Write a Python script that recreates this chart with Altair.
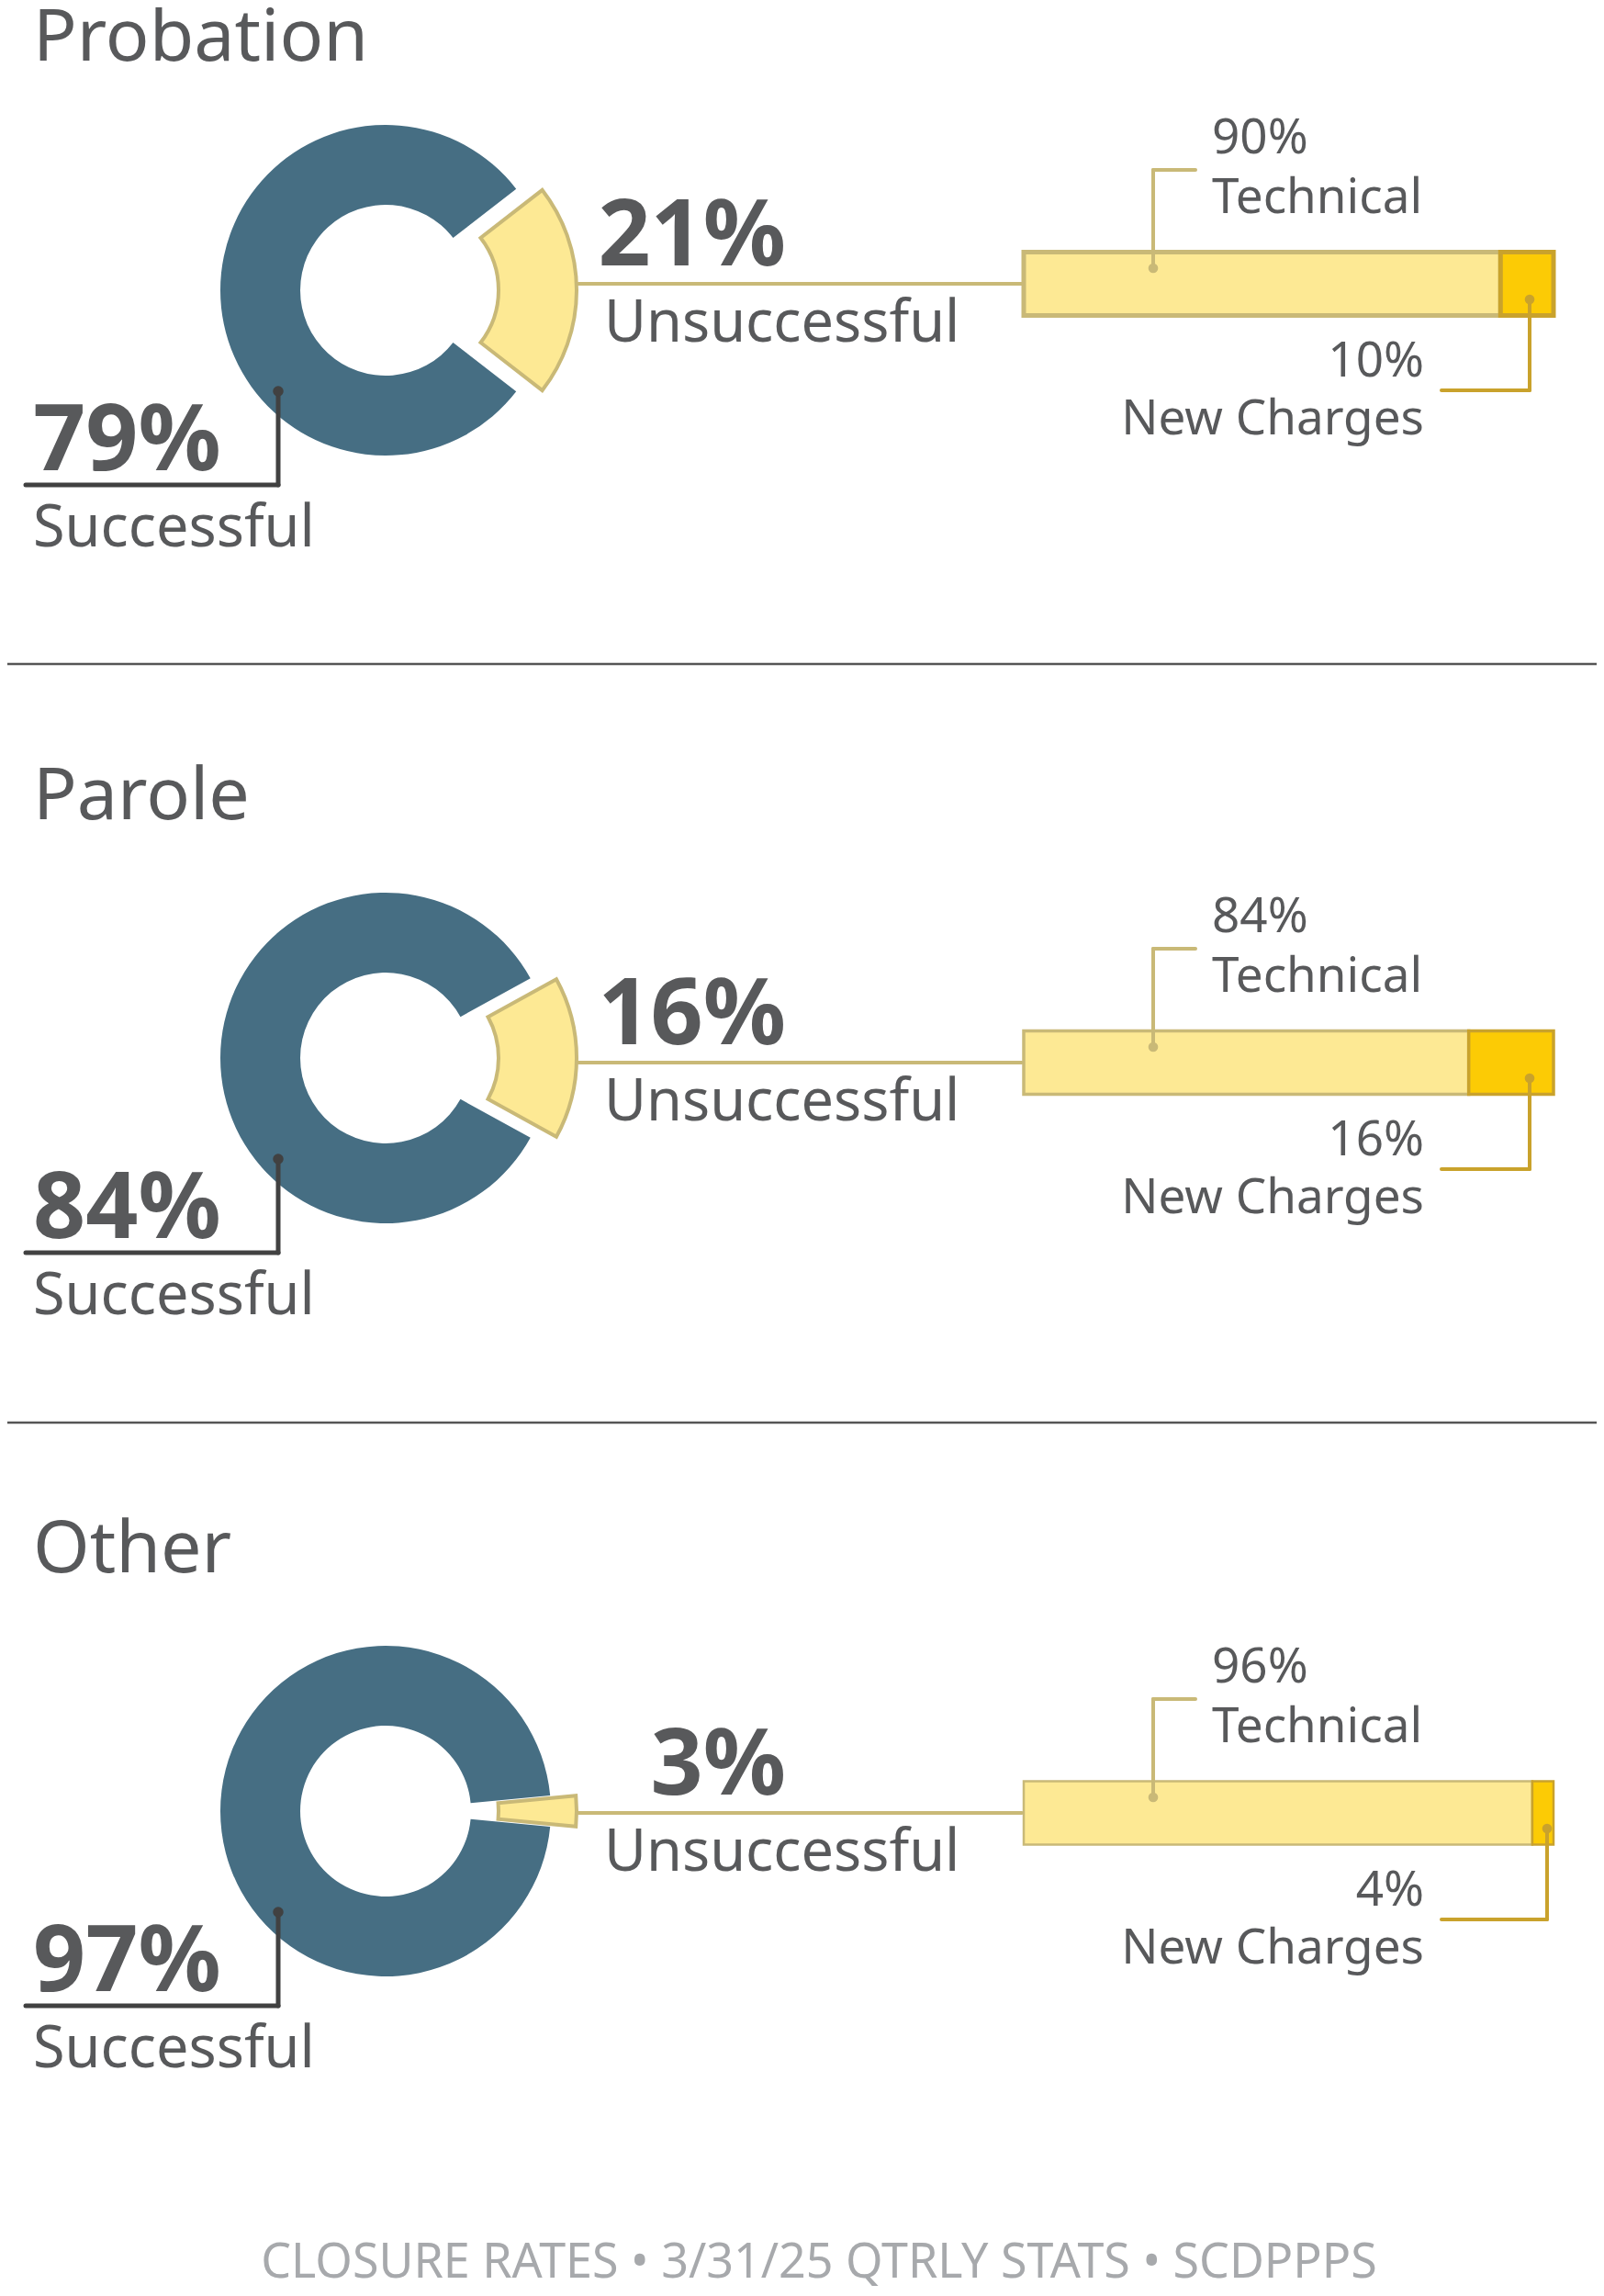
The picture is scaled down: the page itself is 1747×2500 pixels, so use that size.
import math
import altair as alt
import pandas as pd

# ---------------- data ----------------
programs = ["Probation", "Parole", "Other"]
successful = [79, 84, 97]
unsuccessful = [21, 16, 3]
technical = [90, 84, 96]
new_charges = [10, 16, 4]
footer_text = "CLOSURE RATES \u2022 3/31/25 QTRLY STATS \u2022 SCDPPPS"

# ---------------- layout (page px) ----------------
M = 8


def P(v):
    return v - M


donut_cy = [316, 1152, 1972]
bar_cy = [309, 1157, 1974]
sep_y = [723, 1549]
bar_stroke = [5, 3.5, 2.5]
nc_lead_x = [1666, 1666, 1685]

CX, R, R2, EXPLODE = 420, 180, 93, 30
BAR_X0, BAR_X1, BAR_H = 1115, 1692, 69

FONT = "Noto Sans"
BLUE = "#466e83"
LIGHT = "#fde994"
LIGHT_STROKE = "#c9b977"
GOLD = "#fccb05"
GOLD_STROKE = "#c9a22c"
TEXT = "#58595b"
DARK = "#414141"
SEP = "#555555"
FOOT = "#a7a9ac"

ONE = pd.DataFrame({"k": [0]})


def txt(s, x, y, size, bold=False, align="left", color=TEXT):
    return alt.Chart(pd.DataFrame({"t": [s]})).mark_text(
        align=align, baseline="alphabetic", font=FONT, fontSize=size,
        fontWeight="bold" if bold else "normal", color=color,
    ).encode(x=alt.value(P(x)), y=alt.value(P(y)), text="t:N")


def seg(x1, y1, x2, y2, color, w):
    return alt.Chart(ONE).mark_rule(color=color, strokeWidth=w, strokeCap="round").encode(
        x=alt.value(P(x1)), y=alt.value(P(y1)), x2=alt.value(P(x2)), y2=alt.value(P(y2))
    )


def dot(x, y, color, r):
    return alt.Chart(ONE).mark_circle(color=color, opacity=1, size=math.pi * r * r).encode(
        x=alt.value(P(x)), y=alt.value(P(y))
    )


xscale = alt.Scale(domain=[0, 100], range=[P(BAR_X0), P(BAR_X1)])
seg_domain = ["Technical", "New Charges"]

layers = []
for i, name in enumerate(programs):
    cy = donut_cy[i]
    by = bar_cy[i]
    u, s = unsuccessful[i], successful[i]
    t, n = technical[i], new_charges[i]

    # donut
    d = pd.DataFrame({"category": ["Unsuccessful", "Successful"], "value": [u, s]})
    d["end"] = d["value"].cumsum()
    d["start"] = d["end"] - d["value"]
    a0 = math.pi / 2 - u / 100 * math.pi
    th = alt.Theta("start:Q", stack=None,
                   scale=alt.Scale(domain=[0, 100], range=[a0, a0 + 2 * math.pi]))
    base = alt.Chart(d).encode(theta=th, theta2="end:Q", y=alt.value(P(cy)))
    blue = base.transform_filter("datum.category === 'Successful'").mark_arc(
        radius=R, radius2=R2, fill=BLUE
    ).encode(x=alt.value(P(CX)))
    wedge = base.transform_filter("datum.category === 'Unsuccessful'").mark_arc(
        radius=R - 2, radius2=R2, fill=LIGHT, stroke=LIGHT_STROKE, strokeWidth=4,
        strokeJoin="miter"
    ).encode(x=alt.value(P(CX + EXPLODE)))
    layers.append(alt.layer(blue, wedge))

    # stacked bar
    b = pd.DataFrame({"segment": seg_domain, "value": [t, n]})
    b["end"] = b["value"].cumsum()
    b["start"] = b["end"] - b["value"]
    bars = alt.Chart(b).mark_rect(strokeWidth=bar_stroke[i]).encode(
        x=alt.X("start:Q", scale=xscale, axis=None),
        x2="end:Q",
        y=alt.value(P(by - BAR_H / 2)),
        y2=alt.value(P(by + BAR_H / 2)),
        fill=alt.Fill("segment:N", scale=alt.Scale(domain=seg_domain, range=[LIGHT, GOLD]), legend=None),
        stroke=alt.Stroke("segment:N", scale=alt.Scale(domain=seg_domain, range=[LIGHT_STROKE, GOLD_STROKE]), legend=None),
    )
    layers.append(bars)

    # title
    layers.append(txt(name, 36, max(cy - 260, 66), 79))

    # connector donut -> bar
    layers.append(seg(CX + EXPLODE + R, by, BAR_X0 - 2, by, LIGHT_STROKE, 4))
    layers.append(txt(f"{u}%", 856, by - 20, 100, bold=True, align="right"))
    layers.append(txt("Unsuccessful", 658, by + 63, 63))

    # successful callout
    layers.append(seg(303, cy + 110, 303, cy + 212, DARK, 5))
    layers.append(seg(28, cy + 212, 303, cy + 212, DARK, 5))
    layers.append(dot(303, cy + 110, DARK, 6.5))
    layers.append(txt(f"{s}%", 36, cy + 196, 100, bold=True))
    layers.append(txt("Successful", 36, cy + 279, 63))

    # technical callout
    layers.append(seg(1256, by - 17, 1256, by - 124, LIGHT_STROKE, 4))
    layers.append(seg(1256, by - 124, 1302, by - 124, LIGHT_STROKE, 4))
    layers.append(dot(1256, by - 17, LIGHT_STROKE, 6))
    layers.append(txt(f"{t}%", 1320, by - 142, 53))
    layers.append(txt("Technical", 1320, by - 77, 53))

    # new charges callout
    nx = nc_lead_x[i]
    layers.append(seg(nx, by + 17, nx, by + 116, GOLD_STROKE, 4))
    layers.append(seg(nx, by + 116, 1570, by + 116, GOLD_STROKE, 4))
    layers.append(dot(nx, by + 17, GOLD_STROKE, 6))
    layers.append(txt(f"{n}%", 1551, by + 101, 53, align="right"))
    layers.append(txt("New Charges", 1551, by + 164, 53, align="right"))

for y in sep_y:
    layers.append(seg(0, y, 1747, y, SEP, 2.5))

layers.append(txt(footer_text, 892, 2480, 52, align="center", color=FOOT))

chart = alt.layer(*layers).resolve_scale(theta="independent").properties(
    width=1731, height=2492, padding=0,
    autosize=alt.AutoSizeParams(type="none"),
).configure_view(stroke=None)

chart.save("out.html", embed_options={"renderer": "svg", "actions": False})
